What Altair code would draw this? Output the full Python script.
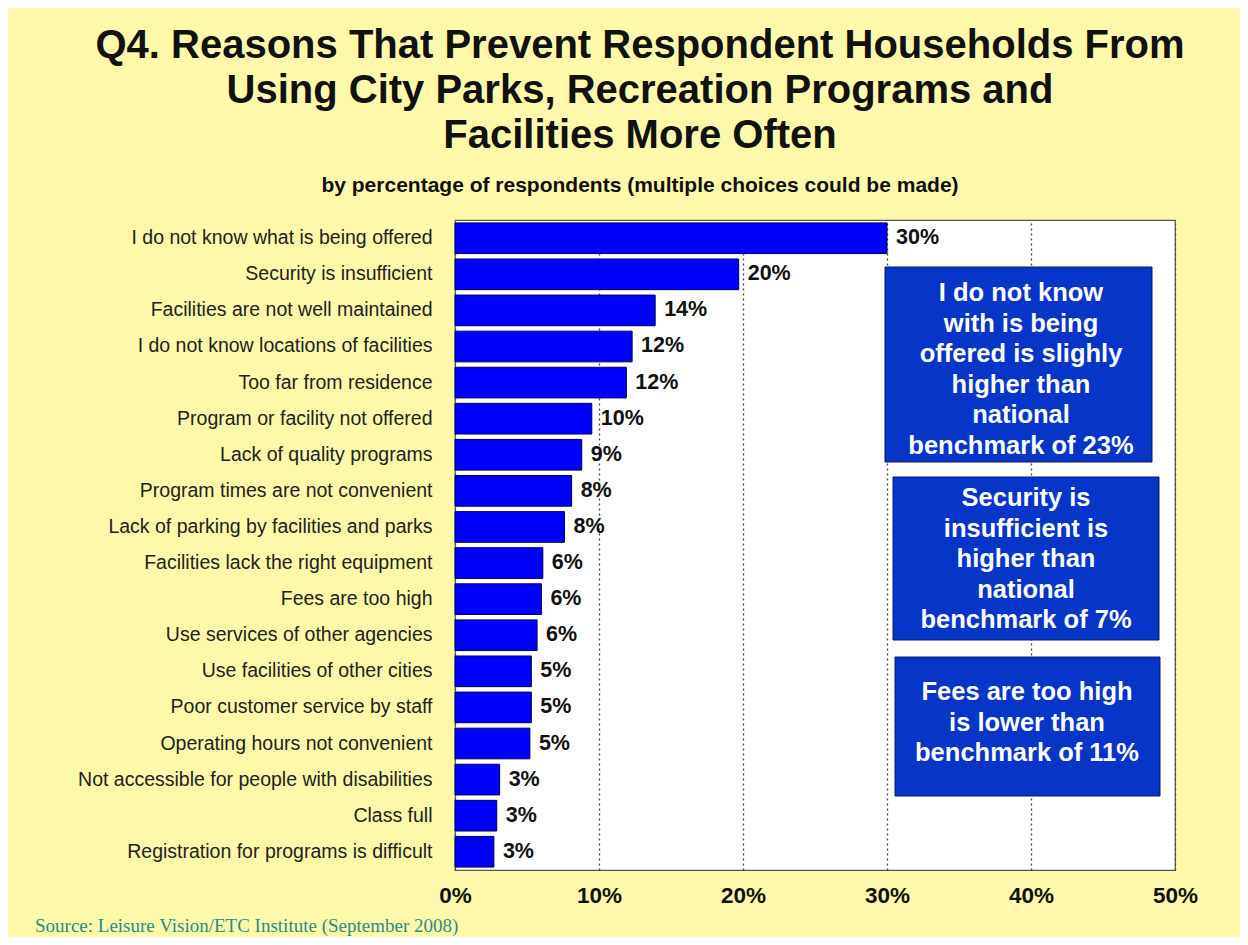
import altair as alt
import pandas as pd

categories = [
    "I do not know what is being offered",
    "Security is insufficient",
    "Facilities are not well maintained",
    "I do not know locations of facilities",
    "Too far from residence",
    "Program or facility not offered",
    "Lack of quality programs",
    "Program times are not convenient",
    "Lack of parking by facilities and parks",
    "Facilities lack the right equipment",
    "Fees are too high",
    "Use services of other agencies",
    "Use facilities of other cities",
    "Poor customer service by staff",
    "Operating hours not convenient",
    "Not accessible for people with disabilities",
    "Class full",
    "Registration for programs is difficult",
]
values = [30.0, 19.7, 13.9, 12.3, 11.9, 9.5, 8.8, 8.1, 7.6, 6.1, 6.0, 5.7, 5.3, 5.3, 5.2, 3.1, 2.9, 2.7]
labels = ["30%", "20%", "14%", "12%", "12%", "10%", "9%", "8%", "8%", "6%", "6%", "6%", "5%", "5%", "5%", "3%", "3%", "3%"]

notes = [
    ["I do not know", "with is being", "offered is slighly", "higher than", "national", "benchmark of 23%"],
    ["Security is", "insufficient is", "higher than", "national", "benchmark of 7%"],
    ["Fees are too high", "is lower than", "benchmark of 11%"],
]

title_lines = [
    "Q4. Reasons That Prevent Respondent Households From",
    "Using City Parks, Recreation Programs and",
    "Facilities More Often",
]
subtitle = "by percentage of respondents (multiple choices could be made)"
source = "Source:  Leisure Vision/ETC Institute (September 2008)"

FONT = "Liberation Sans"
BG = "#FEF9AA"

df = pd.DataFrame({"cat": categories, "pct": [v / 100 for v in values], "lab": labels})

base = alt.Chart(df)
ysc = alt.Scale(paddingInner=0.15, paddingOuter=0.08)
y_enc = alt.Y("cat:N", sort=categories, scale=ysc,
              axis=alt.Axis(title=None, labelFontSize=19.5, labelFont=FONT, labelColor="#222222",
                            labelPadding=23, labelLimit=450, ticks=False, domain=False, grid=False))

bars = base.mark_bar(color="#0000FF", stroke="#000055", strokeWidth=1).encode(
    x=alt.X("pct:Q", scale=alt.Scale(domain=[0, 0.5], nice=False),
            axis=alt.Axis(title=None, format=".0%", values=[0, 0.1, 0.2, 0.3, 0.4, 0.5],
                          labelFontSize=22.5, labelFontWeight="bold", labelFont=FONT, labelColor="#111111",
                          labelPadding=14, labelFlush=False, ticks=False, domain=False,
                          grid=True, gridColor="#444444", gridDash=[2, 3], gridWidth=1.3)),
    y=y_enc,
)

texts = base.mark_text(align="left", baseline="middle", dx=9, fontSize=21.5, fontWeight="bold",
                       font=FONT, color="#111111").encode(
    x="pct:Q", y=alt.Y("cat:N", sort=categories, scale=ysc), text="lab:N")

one = alt.Data(values=[{"a": 1}])
boxes_px = [(430, 697, 47, 242), (438, 704, 257, 420), (440, 705, 437, 576)]
text_px = [(566, 73), (571, 278), (572, 472)]

layers = [bars, texts]
for (x1, x2, y1, y2), (tx, ty), note in zip(boxes_px, text_px, notes):
    layers.append(alt.Chart(one).mark_rect(color="#0635C8", stroke="#0A1A66", strokeWidth=1).encode(
        x=alt.value(x1), x2=alt.value(x2), y=alt.value(y1), y2=alt.value(y2)))
    layers.append(alt.Chart(one).mark_text(text=note, lineHeight=30.5, align="center",
                                           baseline="middle", fontSize=25.5, fontWeight="bold", font=FONT,
                                           color="white").encode(x=alt.value(tx), y=alt.value(ty)))

layers.append(alt.Chart(one).mark_text(text=source, align="left", baseline="alphabetic", fontSize=19,
                                       font="Liberation Serif", color="#2E8A8A").encode(
    x=alt.value(-420), y=alt.value(712)))

chart = alt.layer(*layers).properties(
    width=720, height=650,
    autosize=alt.AutoSizeParams(type="none"),
    padding={"left": 447, "top": 212, "right": 65, "bottom": 67},
    background=BG,
    title=alt.TitleParams(text=title_lines, subtitle=subtitle, anchor="middle", frame="group", dx=-175,
                          font=FONT, fontSize=40, fontWeight="bold", color="#111111", lineHeight=45,
                          subtitleFont=FONT, subtitleFontSize=21, subtitleFontWeight="bold",
                          subtitleColor="#111111", subtitlePadding=19, offset=24),
).configure_view(stroke="#555555", strokeWidth=1.2, fill="white")

chart.save("out.html", embed_options={"renderer": "svg", "actions": False})
